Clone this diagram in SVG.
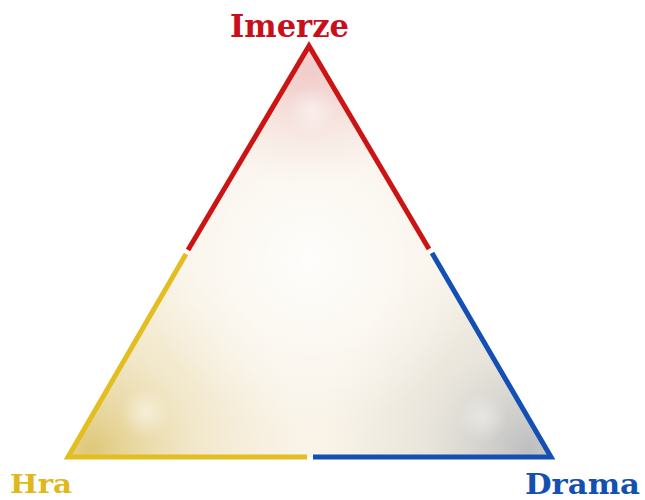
<svg xmlns="http://www.w3.org/2000/svg" width="645" height="500" viewBox="0 0 645 500">
<defs>
<style>
.edge{fill:none;stroke-width:5;stroke-linejoin:miter;stroke-linecap:butt}
.lbl{font-family:"DejaVu Serif","Liberation Serif",serif;font-weight:bold}
</style>
<radialGradient id="gTop" gradientUnits="userSpaceOnUse" cx="309" cy="70" r="120">
<stop offset="0" stop-color="#f0c8c8" stop-opacity="0.9"/>
<stop offset="1" stop-color="#f0c8c8" stop-opacity="0"/>
</radialGradient>
<radialGradient id="gLeft" gradientUnits="userSpaceOnUse" cx="90" cy="450" r="210">
<stop offset="0" stop-color="#dcc36c" stop-opacity="0.9"/>
<stop offset="0.5" stop-color="#e9d9a4" stop-opacity="0.45"/>
<stop offset="1" stop-color="#efe3bd" stop-opacity="0"/>
</radialGradient>
<radialGradient id="gRight" gradientUnits="userSpaceOnUse" cx="530" cy="450" r="210">
<stop offset="0" stop-color="#b6b8bc" stop-opacity="0.9"/>
<stop offset="0.5" stop-color="#d4d3cc" stop-opacity="0.45"/>
<stop offset="1" stop-color="#e0ddd2" stop-opacity="0"/>
</radialGradient>
<radialGradient id="gMid" gradientUnits="userSpaceOnUse" cx="310" cy="260" r="170">
<stop offset="0" stop-color="#ffffff" stop-opacity="0.85"/>
<stop offset="1" stop-color="#ffffff" stop-opacity="0"/>
</radialGradient>
<radialGradient id="gSpotL" gradientUnits="userSpaceOnUse" cx="145" cy="413" r="25">
<stop offset="0" stop-color="#ffffff" stop-opacity="0.5"/>
<stop offset="1" stop-color="#ffffff" stop-opacity="0"/>
</radialGradient>
<radialGradient id="gSpotR" gradientUnits="userSpaceOnUse" cx="483" cy="418" r="25">
<stop offset="0" stop-color="#ffffff" stop-opacity="0.4"/>
<stop offset="1" stop-color="#ffffff" stop-opacity="0"/>
</radialGradient>
<radialGradient id="gSpotT" gradientUnits="userSpaceOnUse" cx="312" cy="110" r="25">
<stop offset="0" stop-color="#ffffff" stop-opacity="0.5"/>
<stop offset="1" stop-color="#ffffff" stop-opacity="0"/>
</radialGradient>
</defs>
<rect width="645" height="500" fill="#ffffff"/>
<g id="triangle">
<polygon points="309,46 68,457 551,457" fill="#f9f3e8"/>
<polygon points="309,46 68,457 551,457" fill="url(#gTop)"/>
<polygon points="309,46 68,457 551,457" fill="url(#gLeft)"/>
<polygon points="309,46 68,457 551,457" fill="url(#gRight)"/>
<polygon points="309,46 68,457 551,457" fill="url(#gMid)"/>
<polygon points="309,46 68,457 551,457" fill="url(#gSpotL)"/>
<polygon points="309,46 68,457 551,457" fill="url(#gSpotR)"/>
<polygon points="309,46 68,457 551,457" fill="url(#gSpotT)"/>
</g>
<g id="connectors">
<polyline class="edge" stroke="#cc1414" points="188,250 309,46 429,249"/>
<polyline class="edge" stroke="#1450b4" points="432,253 551,457 313,457"/>
<polyline class="edge" stroke="#e3be20" points="307,457 68,457 186,254"/>
</g>
<g id="imerze">
<text class="lbl" x="230" y="37" font-size="31" fill="#c8101c" textLength="119" lengthAdjust="spacingAndGlyphs">Imerze</text>
</g>
<g id="hra">
<text class="lbl" x="10" y="493" font-size="26" fill="#e0b818" textLength="62" lengthAdjust="spacingAndGlyphs">Hra</text>
</g>
<g id="drama">
<text class="lbl" x="525" y="494" font-size="27" fill="#1450b0" textLength="115" lengthAdjust="spacingAndGlyphs">Drama</text>
</g>
</svg>
